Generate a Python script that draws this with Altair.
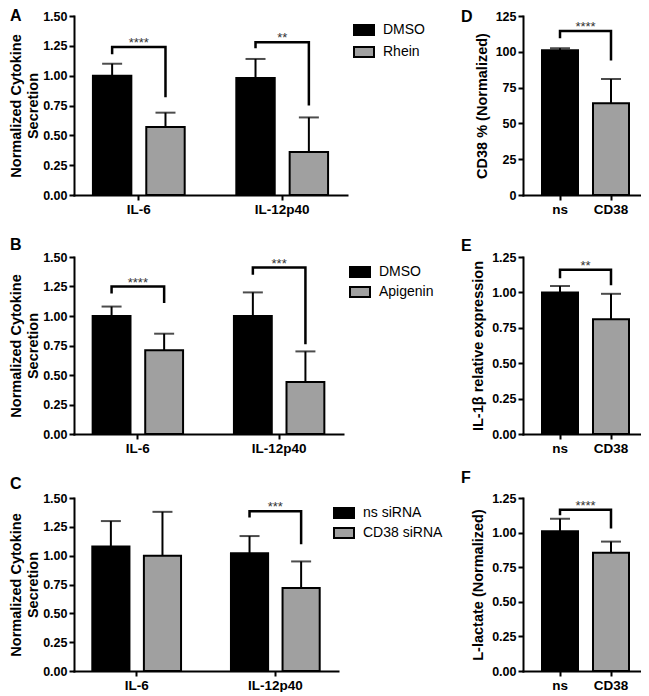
import altair as alt
import pandas as pd

FONT = "Liberation Sans"
GREY = "#a0a0a0"

# ---------------- data ----------------
CYTO = ["IL-6", "IL-12p40"]

A_groups = ["DMSO", "Rhein"]
A_mean_ctl = [1.00, 0.98]
A_sd_ctl = [0.10, 0.16]
A_mean_trt = [0.57, 0.36]
A_sd_trt = [0.12, 0.29]
A_sig_cat = ["IL-6", "IL-12p40"]
A_sig_top = [1.24, 1.28]
A_sig_left = [1.18, 1.23]
A_sig_right = [0.82, 0.75]
A_sig_text = ["****", "**"]

B_groups = ["DMSO", "Apigenin"]
B_mean_ctl = [1.00, 1.00]
B_sd_ctl = [0.08, 0.20]
B_mean_trt = [0.71, 0.44]
B_sd_trt = [0.14, 0.26]
B_sig_cat = ["IL-6", "IL-12p40"]
B_sig_top = [1.25, 1.41]
B_sig_left = [1.19, 1.35]
B_sig_right = [1.11, 0.76]
B_sig_text = ["****", "***"]

C_groups = ["ns siRNA", "CD38 siRNA"]
C_mean_ctl = [1.08, 1.02]
C_sd_ctl = [0.22, 0.15]
C_mean_trt = [1.00, 0.72]
C_sd_trt = [0.38, 0.23]
C_sig_cat = ["IL-12p40"]
C_sig_top = [1.385]
C_sig_left = [1.33]
C_sig_right = [1.10]
C_sig_text = ["***"]

SI = ["ns", "CD38"]

D_mean = [101, 64]
D_sd = [1.5, 17]
D_sig = [109.5, 114.5, 94]  # left leg bottom, top, right leg bottom
D_sig_text = "****"

E_mean = [1.00, 0.81]
E_sd = [0.045, 0.18]
E_sig = [1.10, 1.16, 1.05]
E_sig_text = "**"

F_mean = [1.01, 0.855]
F_sd = [0.09, 0.08]
F_sig = [1.125, 1.165, 1.03]
F_sig_text = "****"


def letter_title(letter, dx, dy):
    return alt.TitleParams(text=letter, anchor="start", frame="group", dx=dx, dy=dy,
                           baseline="top", offset=0, font=FONT, fontSize=16,
                           fontWeight="bold", color="black")


def y_axis(values, fmt, title, tpad):
    return alt.Axis(values=values, format=fmt, title=title, titlePadding=tpad,
                    labelOverlap=False, labelBound=False, labelFlush=False,
                    labelFontSize=12.5, labelPadding=2, tickCount=len(values))


def left_panel(letter, letter_dy, groups, m0, s0, m1, s1, sc, st, sl, sr, stext,
               W, H, lx, ly, rowpad):
    rows = []
    for i, c in enumerate(CYTO):
        rows.append({"cat": c, "grp": groups[0], "mean": m0[i], "top": m0[i] + s0[i]})
        rows.append({"cat": c, "grp": groups[1], "mean": m1[i], "top": m1[i] + s1[i]})
    bars = pd.DataFrame(rows)
    brows = []
    for i, c in enumerate(sc):
        brows += [
            {"id": i, "k": 0, "cat": c, "grp": groups[0], "v": sl[i]},
            {"id": i, "k": 1, "cat": c, "grp": groups[0], "v": st[i]},
            {"id": i, "k": 2, "cat": c, "grp": groups[1], "v": st[i]},
            {"id": i, "k": 3, "cat": c, "grp": groups[1], "v": sr[i]},
        ]
    br = pd.DataFrame(brows)
    stars = pd.DataFrame({"cat": sc, "v": st, "t": stext})

    x = alt.X("cat:N", sort=CYTO,
              scale=alt.Scale(domain=CYTO, paddingInner=0.36, paddingOuter=0.132),
              axis=alt.Axis(title=None, labelAngle=0))
    xo = alt.XOffset("grp:N", sort=groups,
                     scale=alt.Scale(domain=groups, paddingInner=0.28, paddingOuter=0))
    ys = alt.Scale(domain=[0, 1.5], nice=False)
    y = alt.Y("mean:Q", scale=ys,
              axis=y_axis([0, 0.25, 0.5, 0.75, 1.0, 1.25, 1.5], ".2f",
                          ["Normalized Cytokine", "Secretion"], 2))

    bar = alt.Chart(bars).mark_bar(stroke="black", strokeWidth=2).encode(
        x=x, xOffset=xo, y=y,
        fill=alt.Fill("grp:N", sort=groups,
                      scale=alt.Scale(domain=groups, range=["#000000", GREY]),
                      legend=alt.Legend(orient="none", legendX=lx, legendY=ly, title=None,
                                        symbolType="M-1,-0.5L1,-0.5L1,0.5L-1,0.5Z",
                                        symbolSize=400, symbolStrokeColor="black",
                                        symbolStrokeWidth=2, symbolOpacity=1,
                                        labelFont=FONT, labelFontSize=14,
                                        labelColor="black", labelOffset=8,
                                        rowPadding=rowpad)))
    err = alt.Chart(bars).mark_rule(color="black", strokeWidth=2).encode(
        x=x, xOffset=xo, y=alt.Y("mean:Q", scale=ys), y2="top:Q")
    cap = alt.Chart(bars).mark_tick(color="black", thickness=2, size=20,
                                    orient="horizontal").encode(
        x=x, xOffset=xo, y=alt.Y("top:Q", scale=ys))
    brk = alt.Chart(br).mark_line(color="black", strokeWidth=2.5, strokeJoin="miter").encode(
        x=x, xOffset=xo, y=alt.Y("v:Q", scale=ys), order="k:Q", detail="id:N")
    txt = alt.Chart(stars).mark_text(font=FONT, fontSize=13, color="#333333",
                                     baseline="alphabetic").encode(
        x=x, y=alt.Y("v:Q", scale=ys), text="t:N")
    return alt.layer(bar, err, cap, brk, txt).properties(
        width=W, height=H, title=letter_title(letter, -64, letter_dy))


def right_panel(letter, letter_dy, means, sds, sig, stext, ymax, yvals, yfmt, ytitle,
                W, H, tpad):
    bars = pd.DataFrame({"cat": SI, "mean": means,
                         "top": [m + s for m, s in zip(means, sds)]})
    br = pd.DataFrame({"id": [0, 0, 0, 0], "k": [0, 1, 2, 3],
                       "cat": [SI[0], SI[0], SI[1], SI[1]],
                       "v": [sig[0], sig[1], sig[1], sig[2]]})
    stars = pd.DataFrame({"cat": [SI[0]], "v": [sig[1]], "t": [stext]})
    pi, po = 0.294, 0.304
    step = W / (2 - pi + 2 * po)
    x = alt.X("cat:N", sort=SI,
              scale=alt.Scale(domain=SI, paddingInner=pi, paddingOuter=po, align=0.613),
              axis=alt.Axis(title=None, labelAngle=0))
    ys = alt.Scale(domain=[0, ymax], nice=False)
    y = alt.Y("mean:Q", scale=ys, axis=y_axis(yvals, yfmt, ytitle, tpad))
    bar = alt.Chart(bars).mark_bar(stroke="black", strokeWidth=2).encode(
        x=x, y=y,
        fill=alt.Fill("cat:N", sort=SI, scale=alt.Scale(domain=SI, range=["#000000", GREY]),
                      legend=None))
    err = alt.Chart(bars).mark_rule(color="black", strokeWidth=2).encode(
        x=x, y=alt.Y("mean:Q", scale=ys), y2="top:Q")
    cap = alt.Chart(bars).mark_tick(color="black", thickness=2, size=20,
                                    orient="horizontal").encode(
        x=x, y=alt.Y("top:Q", scale=ys))
    brk = alt.Chart(br).mark_line(color="black", strokeWidth=2.5, strokeJoin="miter").encode(
        x=x, y=alt.Y("v:Q", scale=ys), order="k:Q", detail="id:N")
    txt = alt.Chart(stars).mark_text(font=FONT, fontSize=13, color="#333333",
                                     baseline="alphabetic", dx=step / 2).encode(
        x=x, y=alt.Y("v:Q", scale=ys), text="t:N")
    return alt.layer(bar, err, cap, brk, txt).properties(
        width=W, height=H, title=letter_title(letter, -62, letter_dy))


A = left_panel("A", 14, A_groups, A_mean_ctl, A_sd_ctl, A_mean_trt, A_sd_trt,
               A_sig_cat, A_sig_top, A_sig_left, A_sig_right, A_sig_text,
               273, 179, 279, 3, 2)
B = left_panel("B", 2, B_groups, B_mean_ctl, B_sd_ctl, B_mean_trt, B_sd_trt,
               B_sig_cat, B_sig_top, B_sig_left, B_sig_right, B_sig_text,
               269, 177, 275, 4, 0)
C = left_panel("C", 0, C_groups, C_mean_ctl, C_sd_ctl, C_mean_trt, C_sd_trt,
               C_sig_cat, C_sig_top, C_sig_left, C_sig_right, C_sig_text,
               264, 173, 259, 4, 0)
D = right_panel("D", 15, D_mean, D_sd, D_sig, D_sig_text, 125,
                [0, 25, 50, 75, 100, 125], "d", "CD38 % (Normalized)", 118, 179, 6)
E = right_panel("E", 3, E_mean, E_sd, E_sig, E_sig_text, 1.25,
                [0, 0.25, 0.5, 0.75, 1.0, 1.25], ".2f", "IL-1β relative expression",
                118, 177, 6)
F = right_panel("F", -6, F_mean, F_sd, F_sig, F_sig_text, 1.25,
                [0, 0.25, 0.5, 0.75, 1.0, 1.25], ".2f", "L-lactate (Normalized)",
                118, 173, 6)

chart = alt.concat(
    A, D, B, E, C, F, columns=2, spacing={"row": 62, "column": 176},
    bounds="flush", align="all"
).resolve_scale(
    fill="independent", x="independent", y="independent", xOffset="independent"
).resolve_legend(
    fill="independent"
).properties(
    padding=0
).configure_view(
    strokeWidth=0
).configure_axis(
    domainColor="black", domainWidth=2, domainCap="square", tickColor="black",
    tickWidth=2, tickSize=5, labelColor="black", labelFont=FONT,
    labelFontWeight="bold", titleFont=FONT, titleFontWeight="bold",
    titleColor="black", titleFontSize=14.5, titleLineHeight=17, grid=False
).configure_axisX(
    labelFontSize=13.5, labelPadding=2
).configure_axisY(
    labelFontSize=12.5, labelPadding=2, labelOverlap=False
)

chart.save("out.html", embed_options={"renderer": "svg", "actions": False})
